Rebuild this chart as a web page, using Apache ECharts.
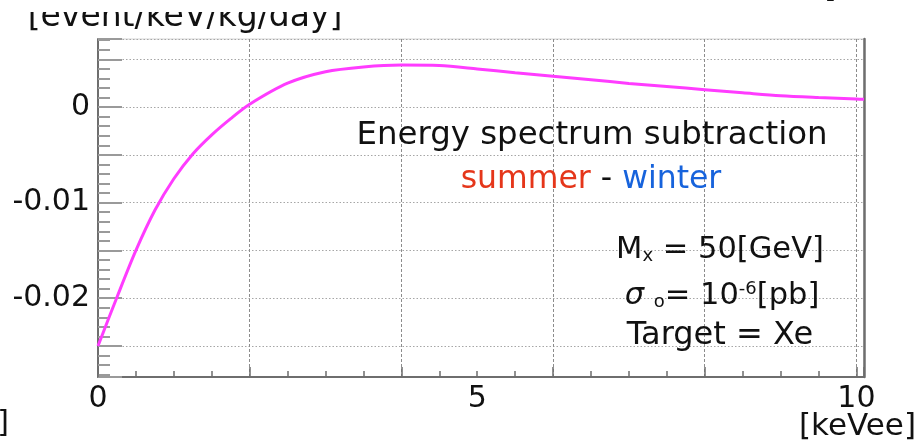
<!DOCTYPE html>
<html>
<head>
<meta charset="utf-8">
<script src="https://cdn.jsdelivr.net/npm/echarts@6/dist/echarts.min.js"></script>
<style>
  html, body { margin: 0; padding: 0; background: #fff; }
  #chart { width: 918px; height: 444px; }
</style>
</head>
<body>
<div id="chart"></div>
<script>
// Energy (keVee) and the summer-minus-winter difference of the recoil spectrum
const energy = [0, 0.25, 0.5, 0.75, 1, 1.25, 1.5, 1.75, 2, 2.5, 3, 3.5, 4, 4.5,
                5, 5.5, 6, 6.5, 7, 7.5, 8, 8.5, 9, 9.5, 10, 10.1];
const rateDiff = [-0.0250, -0.0199, -0.0150, -0.0108, -0.0075, -0.0049, -0.0029, -0.0012,
                  0.0003, 0.0025, 0.0037, 0.0042, 0.0044, 0.00435,
                  0.0040, 0.0036, 0.00323, 0.00287, 0.00248, 0.00216, 0.00183, 0.0015,
                  0.00118, 0.0010, 0.00086, 0.00082];

// Axis ranges and labelled ticks
const xRange = [0, 10.1];
const yRange = [-0.02825, 0.00713];
const xTickLabels = [0, 5, 10];
const yTickLabels = [0, -0.01, -0.02];

const FONT = 'DejaVu Sans';
const AXIS_DARK = '#6e6e6e';
const TICK_GREY = '#9a9a9a';

const series = energy.map((e, i) => [e, rateDiff[i]]);

const inList = (list, v) => list.some(t => Math.abs(t - v) < 1e-9);

const xBase = { type: 'value', min: xRange[0], max: xRange[1], position: 'bottom', offset: 0 };
const yBase = { type: 'value', min: yRange[0], max: yRange[1], position: 'left', offset: 0 };

const chart = echarts.init(document.getElementById('chart'), null, { renderer: 'canvas' });

chart.setOption({
  animation: false,
  backgroundColor: '#ffffff',
  grid: {
    left: 98, right: 54, top: 39, bottom: 67,
    containLabel: false, outerBoundsMode: 'none',
    show: true, borderColor: '#d4d4d4', borderWidth: 1, backgroundColor: 'transparent'
  },
  xAxis: [
    Object.assign({}, xBase, { // long ticks every 2 keVee with vertical grid lines
      interval: 2,
      axisLine: { show: true, onZero: false, lineStyle: { color: AXIS_DARK, width: 2 } },
      axisTick: { show: true, inside: true, length: 10, lineStyle: { color: AXIS_DARK, width: 1.5 } },
      axisLabel: { show: false },
      splitLine: { show: true, lineStyle: { color: '#8c8c8c', width: 1, type: [3, 2] } }
    }),
    Object.assign({}, xBase, { // short ticks every 0.5 keVee
      interval: 0.5,
      axisLine: { show: false, onZero: false },
      axisTick: { show: true, inside: true, length: 6, lineStyle: { color: AXIS_DARK, width: 1.5 } },
      axisLabel: { show: false },
      splitLine: { show: false }
    }),
    Object.assign({}, xBase, { // numeric labels
      interval: 5,
      axisLine: { show: false, onZero: false },
      axisTick: { show: false },
      axisLabel: {
        show: true, margin: 7, color: '#111', fontFamily: FONT, fontSize: 30,
        formatter: v => inList(xTickLabels, v) ? String(v) : ''
      },
      splitLine: { show: false }
    })
  ],
  yAxis: [
    Object.assign({}, yBase, { // long ticks every 0.005 with horizontal grid lines
      splitNumber: 7,
      axisLine: { show: true, onZero: false, lineStyle: { color: AXIS_DARK, width: 2 } },
      axisTick: { show: true, inside: true, length: 24, lineStyle: { color: TICK_GREY, width: 2 } },
      axisLabel: { show: false },
      splitLine: { show: true, lineStyle: { color: '#a6a6a6', width: 1, type: [1.5, 2] } }
    }),
    Object.assign({}, yBase, { // short ticks every 0.001
      splitNumber: 35,
      axisLine: { show: false, onZero: false },
      axisTick: { show: true, inside: true, length: 12, lineStyle: { color: TICK_GREY, width: 2 } },
      axisLabel: { show: false },
      splitLine: { show: false }
    }),
    Object.assign({}, yBase, { // numeric labels
      splitNumber: 4,
      axisLine: { show: false, onZero: false },
      axisTick: { show: false },
      axisLabel: {
        show: true, margin: 8, color: '#111', fontFamily: FONT, fontSize: 30,
        formatter: v => inList(yTickLabels, v) ? String(v) : ''
      },
      splitLine: { show: false }
    }),
    Object.assign({}, yBase, { // right frame
      position: 'right',
      axisLine: { show: true, onZero: false, lineStyle: { color: AXIS_DARK, width: 2.5 } },
      axisTick: { show: false }, axisLabel: { show: false }, splitLine: { show: false }
    })
  ],
  series: [{
    type: 'line',
    name: 'summer - winter',
    xAxisIndex: 0, yAxisIndex: 0,
    data: series,
    smooth: 0.3,
    showSymbol: false,
    lineStyle: { color: '#ff3cff', width: 3 },
    z: 5
  }],
  graphic: [
    { // axis titles
      type: 'text', x: 185, y: 17, z: 10,
      style: { text: '[event/keV/kg/day]', fontFamily: FONT, fontSize: 33, fill: '#111',
               align: 'center', verticalAlign: 'middle' }
    },
    { // upper band of the panel, above the y title
      type: 'rect', z: 20, shape: { x: 0, y: 0, width: 520, height: 12 },
      style: { fill: '#ffffff' }
    },
    {
      type: 'text', x: 824, y: -12, z: 10,
      style: { text: ']', fontFamily: FONT, fontSize: 32, fill: '#111',
               align: 'left', verticalAlign: 'middle' }
    },
    {
      type: 'text', x: 916, y: 427, z: 10,
      style: { text: '[keVee]', fontFamily: FONT, fontSize: 31, fill: '#111',
               align: 'right', verticalAlign: 'middle' }
    },
    {
      type: 'text', x: 9, y: 424, z: 10,
      style: { text: ']', fontFamily: FONT, fontSize: 30, fill: '#111',
               align: 'right', verticalAlign: 'middle' }
    },
    // annotations inside the frame
    {
      type: 'text', x: 592, y: 136, z: 10,
      style: { text: 'Energy spectrum subtraction', fontFamily: FONT, fontSize: 32.4, fill: '#111',
               align: 'center', verticalAlign: 'middle' }
    },
    {
      type: 'text', x: 591, y: 180, z: 10,
      style: {
        text: '{r|summer}{k| - }{b|winter}', align: 'center', verticalAlign: 'middle',
        fontFamily: FONT, fontSize: 31.5,
        rich: {
          r: { fill: '#e5361a', fontFamily: FONT, fontSize: 31.5 },
          k: { fill: '#111', fontFamily: FONT, fontSize: 31.5 },
          b: { fill: '#1763dc', fontFamily: FONT, fontSize: 31.5 }
        }
      }
    },
    {
      type: 'text', x: 720, y: 250, z: 10,
      style: {
        text: '{n|M}{s|x}{n| = 50[GeV]}', align: 'center', verticalAlign: 'middle',
        fontFamily: FONT, fontSize: 30.5,
        rich: {
          n: { fill: '#111', fontFamily: FONT, fontSize: 30.5, verticalAlign: 'bottom' },
          s: { fill: '#111', fontFamily: FONT, fontSize: 18, verticalAlign: 'bottom' }
        }
      }
    },
    {
      type: 'text', x: 722, y: 296, z: 10,
      style: {
        text: '{g|σ }{s|o}{n|= 10}{p|-6}{n|[pb]}', align: 'center', verticalAlign: 'middle',
        fontFamily: FONT, fontSize: 30.5,
        rich: {
          g: { fill: '#111', fontFamily: FONT, fontSize: 30.5, fontStyle: 'italic', verticalAlign: 'bottom' },
          n: { fill: '#111', fontFamily: FONT, fontSize: 30.5, verticalAlign: 'bottom' },
          s: { fill: '#111', fontFamily: FONT, fontSize: 18, verticalAlign: 'bottom' },
          p: { fill: '#111', fontFamily: FONT, fontSize: 18, verticalAlign: 'top' }
        }
      }
    },
    {
      type: 'text', x: 720, y: 336, z: 10,
      style: { text: 'Target = Xe', fontFamily: FONT, fontSize: 32, fill: '#111',
               align: 'center', verticalAlign: 'middle' }
    }
  ]
});
</script>
</body>
</html>
